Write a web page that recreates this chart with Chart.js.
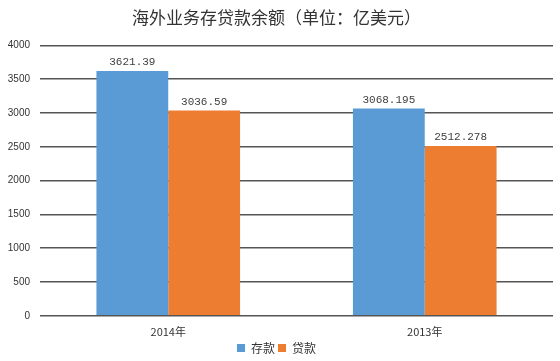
<!DOCTYPE html>
<html>
<head>
<meta charset="utf-8">
<script src="https://cdn.jsdelivr.net/npm/chart.js@4"></script>
<style>
  html, body { margin: 0; padding: 0; background: #fff; }
  #wrap { width: 560px; height: 361px; }
</style>
</head>
<body>
<div id="wrap"><canvas id="chart"></canvas></div>
<script>
var categories = ["2014年", "2013年"]
var deposits = [3621.39, 3068.195]
var loans = [3036.59, 2512.278]
var depositLabels = ["3621.39", "3068.195"]
var loanLabels = ["3036.59", "2512.278"]

// simple value labels above bars
var barLabels = {
  id: 'barLabels',
  afterDatasetsDraw: function(chart) {
    var ctx = chart.ctx
    var texts = [depositLabels, loanLabels]
    ctx.save()
    ctx.font = '11px "Liberation Mono", monospace'
    ctx.fillStyle = '#404040'
    ctx.textAlign = 'center'
    ctx.textBaseline = 'bottom'
    chart.data.datasets.forEach(function(ds, i) {
      chart.getDatasetMeta(i).data.forEach(function(bar, j) {
        ctx.fillText(texts[i][j], bar.x, bar.y - 3)
      })
    })
    ctx.restore()
  }
}

var context = document.getElementById('chart').getContext('2d')
new Chart(context, {
  type: 'bar',
  data: {
    labels: categories,
    datasets: [
      {
        label: "存款",
        backgroundColor: "#5B9BD5",
        data: deposits
      },
      {
        label: "贷款",
        backgroundColor: "#ED7D31",
        data: loans
      }
    ]
  },
  options: {
    responsive: true,
    maintainAspectRatio: false,
    animation: false,
    categoryPercentage: 0.56,
    barPercentage: 1.0,
    layout: { padding: { left: 0, right: 7, top: 0, bottom: -3 } },
    plugins: {
      tooltip: { enabled: false },
      title: {
        display: true,
        text: "海外业务存贷款余额（单位：亿美元）",
        color: '#333',
        font: { family: '"Noto Sans CJK SC"', size: 17, weight: 'normal' },
        padding: { top: 7, bottom: 18 }
      },
      legend: {
        position: 'bottom',
        labels: {
          boxWidth: 8,
          boxHeight: 8,
          padding: 3,
          color: '#333',
          font: { family: '"Noto Sans CJK SC"', size: 12 }
        }
      }
    },
    scales: {
      x: {
        grid: { display: false },
        border: { display: false },
        ticks: {
          color: '#333',
          font: { family: '"Noto Sans CJK SC"', size: 11 },
          padding: 1
        }
      },
      y: {
        min: 0,
        max: 4000,
        afterFit: function(scale) { scale.width = 40 },
        grid: { color: '#555', lineWidth: 1.5, drawTicks: false },
        border: { display: false },
        ticks: {
          stepSize: 500,
          color: '#333',
          padding: 10,
          font: { family: '"Liberation Sans"', size: 10 },
          callback: function(v) { return String(v) }
        }
      }
    }
  },
  plugins: [barLabels]
});
</script>
</body>
</html>
